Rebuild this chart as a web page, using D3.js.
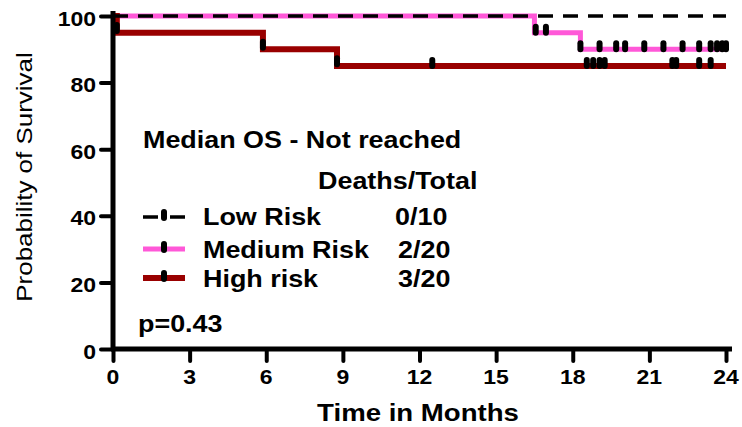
<!DOCTYPE html>
<html>
<head>
<meta charset="utf-8">
<script src="https://cdn.jsdelivr.net/npm/d3@7"></script>
<style>
body { margin: 0; background: #fff; }
text { font-family: "Liberation Sans", Arial, sans-serif; fill: #000; }
</style>
</head>
<body>
<script>
var width = 742, height = 427;

// Kaplan-Meier step data (months, % survival)
var lowTimes = [0, 24];
var lowSurv = [100, 100];
var medTimes = [0, 16.5, 18.3, 24];
var medSurv = [100, 95, 90, 90];
var highTimes = [0, 0.15, 5.87, 8.77, 24];
var highSurv = [100, 95, 90, 85, 85];

// censored observations
var medCensorTimes = [16.55, 16.95, 18.3, 19.05, 19.7, 20.05, 20.8, 21.55, 22.3, 22.95, 23.4, 23.65, 23.85, 24.0];
var medCensorSurv = [95, 95, 90, 90, 90, 90, 90, 90, 90, 90, 90, 90, 90, 90];
var highCensorTimes = [0.15, 5.87, 8.77, 12.5, 18.55, 18.8, 19.05, 19.25, 21.9, 22.05, 22.95, 23.4];
var highCensorSurv = [95.5, 90.5, 85.5, 85, 85, 85, 85, 85, 85, 85, 85, 85];

var xTicks = [0, 3, 6, 9, 12, 15, 18, 21, 24];
var yTicks = [0, 20, 40, 60, 80, 100];

var legendNames = ["Low Risk", "Medium Risk", "High risk"];
var legendCounts = ["0/10", "2/20", "3/20"];
var legendColors = ["#000000", "#ff58d8", "#990000"];

var svg = d3.select("body").append("svg")
  .attr("width", width)
  .attr("height", height);

var x = d3.scaleLinear().domain([0, 24]).range([113, 726]);
var y = d3.scaleLinear().domain([0, 100]).range([349, 16]);

// text with the wide look of the original (stretched along the baseline)
function txt(px, py, s, size, bold, anchor, sx, rot) {
  var g = svg.append("g")
    .attr("transform", "translate(" + px + "," + py + ") rotate(" + (rot || 0) + ") scale(" + sx + ",1)");
  return g.append("text")
    .attr("font-size", size)
    .attr("font-weight", bold ? "bold" : "normal")
    .attr("text-anchor", anchor || "start")
    .text(s);
}

function pts(t, s) { return t.map(function(d, i) { return [d, s[i]]; }); }

var line = d3.line()
  .x(function(d) { return x(d[0]); })
  .y(function(d) { return y(d[1]); })
  .curve(d3.curveStepAfter);

// medium (pink) under the dashed low-risk line
svg.append("path").datum(pts(medTimes, medSurv))
  .attr("d", line).attr("fill", "none")
  .attr("stroke", legendColors[1]).attr("stroke-width", 5);

svg.append("path").datum(pts(highTimes, highSurv))
  .attr("d", line).attr("fill", "none")
  .attr("stroke", legendColors[2]).attr("stroke-width", 6);

svg.append("path").datum(pts(lowTimes, lowSurv))
  .attr("d", line).attr("fill", "none")
  .attr("stroke", "#000").attr("stroke-width", 3.5)
  .attr("stroke-dasharray", "15,10");

function censor(times, surv) {
  svg.append("g").selectAll("rect")
    .data(pts(times, surv))
    .enter().append("rect")
    .attr("x", function(d) { return x(d[0]) - 3; })
    .attr("y", function(d) { return y(d[1]) - 9; })
    .attr("width", 6).attr("height", 12)
    .attr("rx", 3)
    .attr("fill", "#000");
}
censor(medCensorTimes, medCensorSurv);
censor(highCensorTimes, highCensorSurv);

// axes (lines via d3, labels drawn separately)
var xAxis = d3.axisBottom(x).tickValues(xTicks).tickSize(12).tickFormat("").tickSizeOuter(0);
var yAxis = d3.axisLeft(y).tickValues(yTicks).tickSize(12).tickFormat("").tickSizeOuter(0);

var gx = svg.append("g").attr("transform", "translate(0,349)").call(xAxis);
var gy = svg.append("g").attr("transform", "translate(113,0)").call(yAxis);

gx.select(".domain").attr("d", "M" + (x(0) - 2) + ",0H732");
gy.select(".domain").attr("d", "M0," + (y(0) + 2) + "V11");
[gx, gy].forEach(function(g) {
  g.select(".domain").attr("stroke", "#000").attr("stroke-width", 5);
  g.selectAll(".tick line").attr("stroke", "#000").attr("stroke-width", 4)
    .attr("stroke-linecap", "round");
});

xTicks.forEach(function(t) {
  txt(x(t), 384, String(t), 20, true, "middle", 1.15);
});
yTicks.forEach(function(t) {
  txt(96, y(t) + 9.5, String(t), 20, true, "end", 1.15);
});

txt(418, 421, "Time in Months", 23, true, "middle", 1.2);
txt(32, 177, "Probability of Survival", 22, false, "middle", 1.18, -90);

txt(143, 148, "Median OS - Not reached", 23, true, "start", 1.17);
txt(318, 189, "Deaths/Total", 23, true, "start", 1.17);

// legend
var rowLine = [217, 249, 278];
var rowText = [225, 258, 287];
var countX = [395, 398, 398];

legendNames.forEach(function(name, i) {
  svg.append("line")
    .attr("x1", 143).attr("x2", 185).attr("y1", rowLine[i]).attr("y2", rowLine[i])
    .attr("stroke", legendColors[i])
    .attr("stroke-width", i == 0 ? 3.5 : (i == 1 ? 5 : 6))
    .attr("stroke-dasharray", i == 0 ? "15,5,2,5,15" : null);
  svg.append("rect")
    .attr("x", 161).attr("y", rowLine[i] - 8).attr("width", 6).attr("height", 12)
    .attr("rx", 3).attr("fill", "#000");
  txt(203, rowText[i], name, 23, true, "start", 1.17);
  txt(countX[i], rowText[i], legendCounts[i], 23, true, "start", 1.17);
});

txt(138, 332, "p=0.43", 23, true, "start", 1.17);
</script>
</body>
</html>
